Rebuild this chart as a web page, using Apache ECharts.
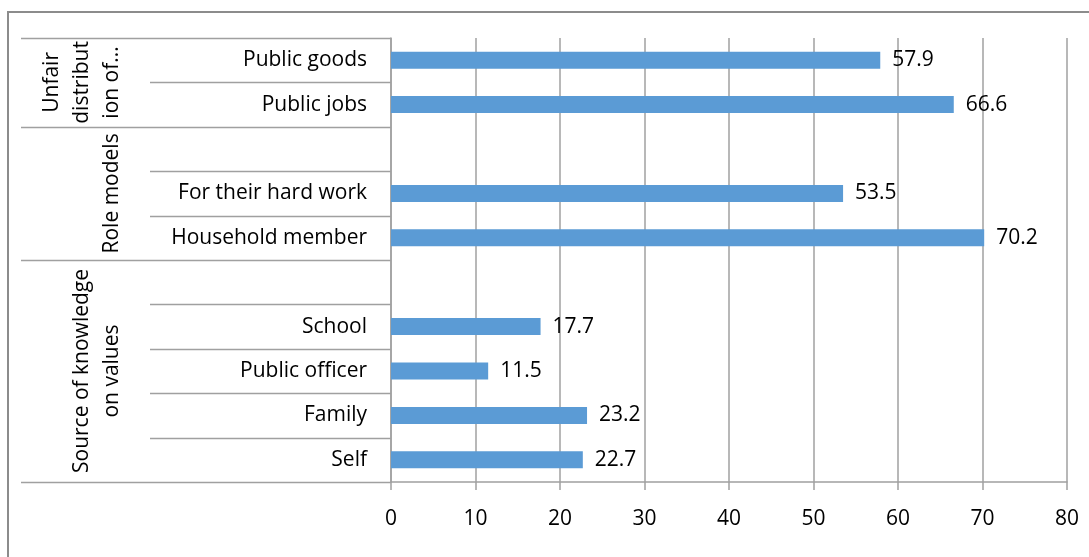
<!DOCTYPE html>
<html>
<head>
<meta charset="utf-8">
<script src="https://cdn.jsdelivr.net/npm/echarts@6/dist/echarts.min.js"></script>
<style>
html,body{margin:0;padding:0;background:#fff;}
#c{width:1089px;height:557px;}
</style>
</head>
<body>
<div id="c"></div>
<script>
// categories listed bottom to top (blank rows separate groups)
var categories = ['Self', 'Family', 'Public officer', 'School', '', 'Household member', 'For their hard work', ' ', 'Public jobs', 'Public goods'];
var values = [22.7, 23.2, 11.5, 17.7, '-', 70.2, 53.5, '-', 66.6, 57.9];
var xTicks = [0, 10, 20, 30, 40, 50, 60, 70, 80];
// groups: [label, first category index, last category index]
var groups = [
  ['Source of knowledge\non values', 0, 4],
  ['Role models', 5, 7],
  ['Unfair\ndistribut\nion of...', 8, 9]
];

var FONT = '"Open Sans", "Noto Sans", sans-serif';
var FS = 21;
var LINE = '#a0a0a0';
var chart = echarts.init(document.getElementById('c'));
chart.setOption({
  animation: false,
  backgroundColor: '#fff',
  grid: {left: 391, right: 22, top: 38, bottom: 75, containLabel: false},
  xAxis: {
    type: 'value', min: xTicks[0], max: xTicks[xTicks.length - 1], interval: 10,
    axisLine: {show: true, lineStyle: {color: LINE, width: 1.5}},
    axisTick: {show: true, inside: false, length: 8, lineStyle: {color: LINE, width: 1.5}},
    splitLine: {show: true, lineStyle: {color: LINE, width: 1.5}},
    axisLabel: {color: '#000', fontSize: FS, fontFamily: FONT, margin: 27}
  },
  yAxis: {
    type: 'category', data: categories,
    axisLine: {show: true, lineStyle: {color: LINE, width: 1.5}},
    axisTick: {show: false},
    splitLine: {show: false},
    axisLabel: {color: '#000', fontSize: FS, fontFamily: FONT, margin: 24, interval: 0}
  },
  series: [{
    type: 'bar', data: values, barWidth: 17,
    itemStyle: {color: '#5b9bd5'},
    label: {show: true, position: 'right', distance: 12, color: '#000', fontSize: FS, fontFamily: FONT}
  }]
});

// separator lines and group labels, positioned via the axis scale
function px(i) { return chart.convertToPixel({yAxisIndex: 0}, i); }
var c0 = px(0), bw = Math.abs(px(0) - px(1));
function boundary(k) { return c0 + bw / 2 - k * bw; }
var axisX = chart.convertToPixel({xAxisIndex: 0}, 0);
var elements = [];
elements.push({type: 'rect', shape: {x: 8, y: 12, width: 1200, height: 700}, style: {fill: null, stroke: '#8c8c8c', lineWidth: 2}, silent: true});
var groupStarts = {};
groups.forEach(function (g) { groupStarts[g[1]] = true; });
for (var k = 0; k <= categories.length; k++) {
  var isGroup = groupStarts[k] || k === categories.length;
  var y = Math.round(boundary(k)) + 0.5;
  elements.push({type: 'line', shape: {x1: isGroup ? 21 : 150, y1: y, x2: axisX, y2: y}, style: {stroke: LINE, lineWidth: 1.5}, silent: true});
}
groups.forEach(function (g) {
  var yc = (boundary(g[1]) + boundary(g[2] + 1)) / 2;
  elements.push({
    type: 'text', x: 127, y: yc, rotation: Math.PI / 2,
    style: {text: g[0], fill: '#000', fontSize: FS, fontFamily: FONT, lineHeight: 30, align: 'center', verticalAlign: 'bottom'},
    silent: true
  });
});
chart.setOption({graphic: {elements: elements}});
</script>
</body>
</html>
